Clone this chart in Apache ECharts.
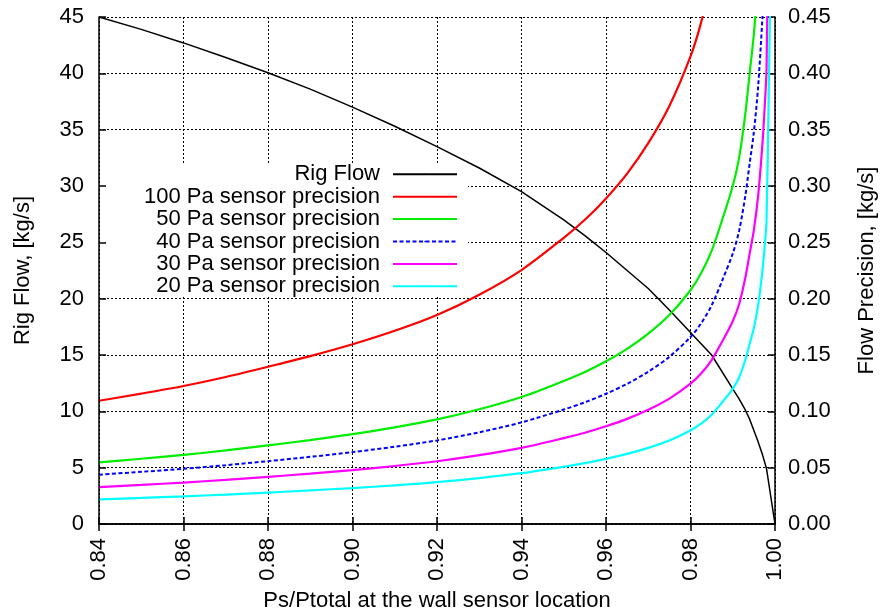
<!DOCTYPE html>
<html>
<head>
<meta charset="utf-8">
<script src="https://cdn.jsdelivr.net/npm/echarts@6/dist/echarts.min.js"></script>
<style>html,body{margin:0;padding:0;background:#fff}#c{width:880px;height:614px}</style>
</head>
<body>
<div id="c"></div>
<script>
// Rig flow (left axis, kg/s)
var flowPs   = [0.84,0.85,0.86,0.87,0.88,0.89,0.90,0.91,0.92,0.93,0.94,0.95,0.955,0.96,0.965,0.97,0.975,0.98,0.985,0.99,0.9915,0.993,0.994,0.995,0.996,0.997,0.998,1.00];
var rigFlow  = [45.0,43.9,42.7,41.4,40.05,38.6,37.0,35.3,33.5,31.6,29.5,27.0,25.6,24.1,22.5,20.9,19.0,17.0,15.0,12.0,11.1,10.1,9.3,8.3,7.3,6.2,4.9,0];

// Flow precision (right axis, kg/s)
var precPs   = [0.84,0.85,0.86,0.87,0.88,0.89,0.90,0.91,0.92,0.93,0.94,0.95,0.955,0.96,0.965,0.97,0.975,0.98,0.9825,0.985,0.9875,0.99,0.9915,0.993,0.994,0.995,0.996,0.997,0.9975,0.998,0.9985,0.999];
var prec100  = [0.1094,0.1157,0.1225,0.1305,0.1396,0.1490,0.1595,0.1715,0.1855,0.2035,0.2254,0.2540,0.2700,0.2890,0.3110,0.3380,0.3710,0.4150,0.4450,0.4850];
var prec50   = [0.0547,0.0579,0.0613,0.0653,0.0698,0.0745,0.0798,0.0858,0.0928,0.1018,0.1127,0.1270,0.1350,0.1445,0.1555,0.1690,0.1855,0.2075,0.2225,0.2425,0.2700,0.3000,0.3250,0.3650,0.4000,0.4350,0.4850];
var prec40   = [0.0438,0.0463,0.0490,0.0522,0.0558,0.0596,0.0638,0.0686,0.0742,0.0814,0.0902,0.1016,0.1080,0.1156,0.1244,0.1352,0.1484,0.1660,0.1780,0.1940,0.2160,0.2400,0.2600,0.2920,0.3200,0.3480,0.3880,0.4480,0.4880];
var prec30   = [0.0328,0.0347,0.0368,0.0392,0.0419,0.0447,0.0479,0.0515,0.0557,0.0611,0.0676,0.0762,0.0810,0.0867,0.0933,0.1014,0.1113,0.1245,0.1335,0.1455,0.1620,0.1800,0.1950,0.2190,0.2400,0.2610,0.2910,0.3360,0.3660,0.4050,0.5700];
var prec20   = [0.0219,0.0231,0.0245,0.0261,0.0279,0.0298,0.0319,0.0343,0.0371,0.0407,0.0451,0.0508,0.0540,0.0578,0.0622,0.0676,0.0742,0.0830,0.0890,0.0970,0.1080,0.1200,0.1300,0.1460,0.1600,0.1740,0.1940,0.2240,0.2440,0.2700,0.3800,0.5000];

var xTicks = {min:0.84, max:1.00, step:0.02};
var yLeftTicks = {min:0, max:45, step:5};
var yRightTicks = {min:0, max:0.45, step:0.05};

var seriesDefs = [
  {name:'Rig Flow', xs:flowPs, ys:rigFlow, axis:0, color:'#000000', width:1.5, type:'solid', smooth:false},
  {name:'100 Pa sensor precision', xs:precPs, ys:prec100, axis:1, color:'#ff0000', width:2.2, type:'solid', smooth:0.3},
  {name:'50 Pa sensor precision', xs:precPs, ys:prec50, axis:1, color:'#00ee00', width:2.2, type:'solid', smooth:0.3},
  {name:'40 Pa sensor precision', xs:precPs, ys:prec40, axis:1, color:'#0000ff', width:2, type:[4,2.5], smooth:0.3},
  {name:'30 Pa sensor precision', xs:precPs, ys:prec30, axis:1, color:'#ff00ff', width:2.2, type:'solid', smooth:0.3},
  {name:'20 Pa sensor precision', xs:precPs, ys:prec20, axis:1, color:'#00ffff', width:2.2, type:'solid', smooth:0.3}
];

var FONT = '"Liberation Sans", Arial, Helvetica, sans-serif';
var FS = 22;
var chart = echarts.init(document.getElementById('c'), null, {renderer:'canvas'});

var series = seriesDefs.map(function(d){
  return {
    name: d.name, type:'line', xAxisIndex:0, yAxisIndex:d.axis,
    data: d.xs.slice(0, d.ys.length).map(function(x,i){return [x, d.ys[i]];}),
    showSymbol:false, symbol:'none', smooth:d.smooth, clip:true,
    lineStyle:{color:d.color, width:d.width, type:d.type},
    itemStyle:{color:d.color}, animation:false, z:2
  };
});

var legendTop0 = 163.3, legendStep = 22.4;
var legends = seriesDefs.map(function(d,i){
  return {
    data:[d.name], orient:'horizontal', align:'right', right:422, top: legendTop0 + i*legendStep,
    padding:0, itemWidth:64, itemHeight:2, selectedMode:false, z:5,
    textStyle:{fontSize:FS, color:'#000', fontFamily:FONT, padding:[0,8,0,0], lineHeight:22}
  };
});

var axisLineStyle = {show:true, lineStyle:{color:'#000', width:1.5}};
var tickStyle = {show:true, inside:true, length:7, lineStyle:{color:'#000', width:1.5}};
var gridLine = {show:true, lineStyle:{color:'#000', width:1, type:[2,2]}};
var labelStyle = {fontSize:FS, color:'#000', fontFamily:FONT};

chart.setOption({
  animation:false,
  backgroundColor:'#fff',
  grid:{left:99, right:105, top:17, bottom:90, containLabel:false, outerBoundsMode:'none'},
  legend: legends,
  graphic:[{type:'rect', z:1, shape:{x:100, y:163, width:368, height:133}, style:{fill:'#fff'}}],
  xAxis:[
    {type:'value', position:'bottom', min:xTicks.min, max:xTicks.max, interval:xTicks.step,
     axisLine:axisLineStyle, axisTick:tickStyle, splitLine:gridLine,
     axisLabel:Object.assign({rotate:90, margin:14, formatter:function(v){return v.toFixed(2);}}, labelStyle),
     name:'Ps/Ptotal at the wall sensor location', nameLocation:'middle', nameGap:66,
     nameTextStyle:{fontSize:FS, color:'#000', fontFamily:FONT}},
    {type:'value', position:'top', min:xTicks.min, max:xTicks.max, interval:xTicks.step,
     axisLine:axisLineStyle, axisTick:tickStyle, splitLine:{show:false}, axisLabel:{show:false}}
  ],
  yAxis:[
    {type:'value', position:'left', min:yLeftTicks.min, max:yLeftTicks.max, interval:yLeftTicks.step, z:3,
     axisLine:axisLineStyle, axisTick:tickStyle, splitLine:{show:false},
     axisLabel:Object.assign({margin:15}, labelStyle),
     name:'Rig Flow, [kg/s]', nameLocation:'middle', nameGap:65, nameRotate:90,
     nameTextStyle:{fontSize:FS, color:'#000', fontFamily:FONT}},
    {type:'value', position:'right', min:yRightTicks.min, max:yRightTicks.max, interval:yRightTicks.step,
     axisLine:axisLineStyle, axisTick:tickStyle, splitLine:gridLine,
     axisLabel:Object.assign({margin:13, formatter:function(v){return v.toFixed(2);}}, labelStyle),
     name:'Flow Precision, [kg/s]', nameLocation:'middle', nameGap:81, nameRotate:90,
     nameTextStyle:{fontSize:FS, color:'#000', fontFamily:FONT}}
  ],
  series: series
});
</script>
</body>
</html>
